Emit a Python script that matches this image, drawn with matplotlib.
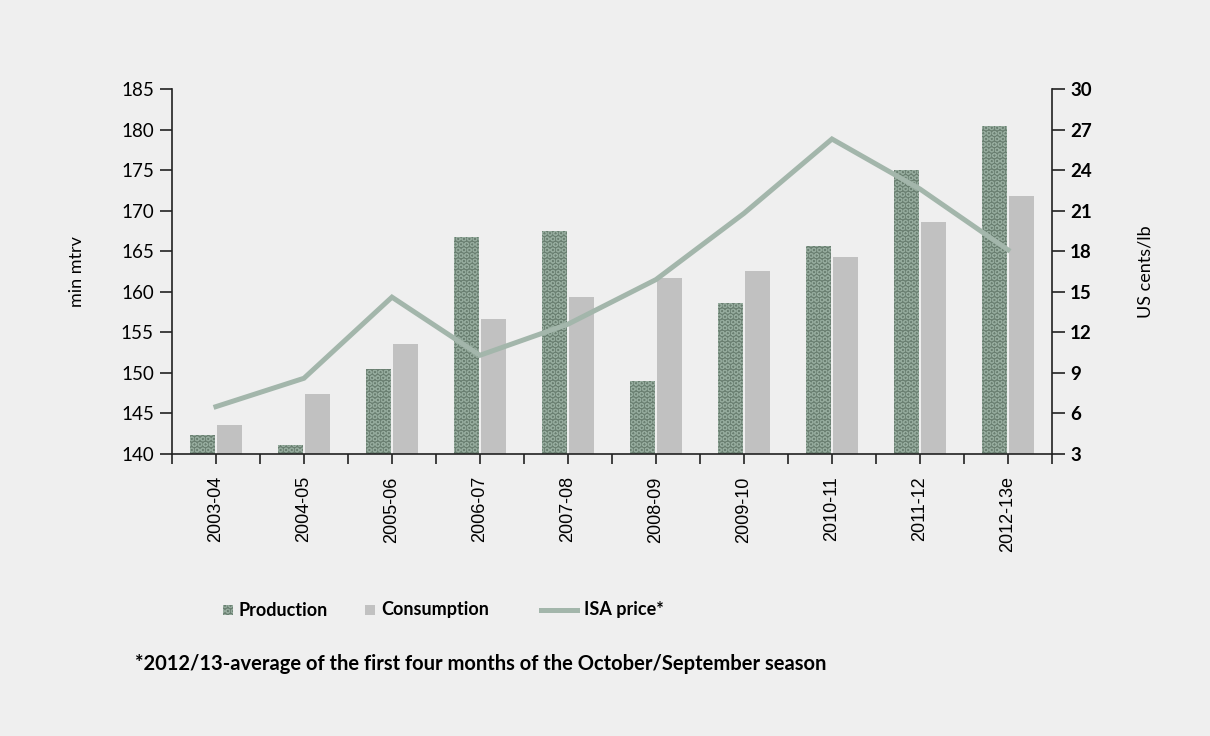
import numpy as np
import matplotlib
matplotlib.use('Agg')
import matplotlib.pyplot as plt
from matplotlib.patches import Rectangle
from matplotlib.lines import Line2D

seasons = ['2003-04', '2004-05', '2005-06', '2006-07', '2007-08',
           '2008-09', '2009-10', '2010-11', '2011-12', '2012-13e']
production = [142.3, 141.1, 150.5, 166.8, 167.5, 149.0, 158.6, 165.6, 175.0, 180.4]
consumption = [143.6, 147.4, 153.6, 156.6, 159.4, 161.7, 162.6, 164.3, 168.6, 171.8]
isa_price = [6.5, 8.6, 14.6, 10.3, 12.6, 15.9, 20.8, 26.3, 22.6, 18.1]

bg = '#efefef'
prod_col = '#6a7f71'
ring_col = '#94aa9c'
cons_col = '#c1c1c1'
line_col = '#a3b6ab'

plt.rcParams['font.family'] = ['Lato', 'DejaVu Sans']
plt.rcParams['hatch.linewidth'] = 0.7

fig = plt.figure(figsize=(12.1, 7.36), dpi=100, facecolor=bg)
ax = fig.add_axes([0.1421, 0.3832, 0.7273, 0.4959])
ax.set_facecolor(bg)

x = np.arange(len(seasons))
w = 0.29
# the ring pattern takes its colour from the edge colour, edge itself is not drawn
ax.bar(x - 0.155, np.array(production) - 140, bottom=140, width=w,
       color=prod_col, edgecolor=ring_col, linewidth=0, hatch='OOO', zorder=2)
ax.bar(x + 0.155, np.array(consumption) - 140, bottom=140, width=w,
       color=cons_col, linewidth=0, zorder=2)

ax.set_xlim(-0.5, len(seasons) - 0.5)
ax.set_ylim(140, 185)
ax.set_yticks(np.arange(140, 186, 5))
ax.set_xticks(x)
ax.set_xticks(np.arange(-0.5, len(seasons)), minor=True)
ax.set_xticklabels(seasons, rotation=90, family='Liberation Sans', fontsize=13)
ax.tick_params(axis='x', which='both', length=7, width=1.2, color='#222222', pad=9)
ax.tick_params(axis='y', length=9, width=1.2, color='#222222', labelsize=13.5, pad=4)
ax.set_ylabel('min mtrv', fontsize=13, labelpad=26)

for s in ['top', 'right']:
    ax.spines[s].set_visible(False)
for s in ['left', 'bottom']:
    ax.spines[s].set_color('#222222')
    ax.spines[s].set_linewidth(1.2)

# price line on the right-hand scale
ax2 = ax.twinx()
ax2.plot(x, isa_price, color=line_col, linewidth=3.6, solid_joinstyle='miter', zorder=3)
ax2.set_ylim(3, 30)
ax2.set_yticks(np.arange(3, 31, 3))
ax2.tick_params(axis='y', length=9, width=1.2, color='#222222', labelsize=13.5, pad=4)
for lbl in ax2.get_yticklabels():
    lbl.set_fontweight('bold')
ax2.set_ylabel('US cents/lb', fontsize=13, labelpad=33)
for s in ['top', 'left', 'bottom']:
    ax2.spines[s].set_visible(False)
ax2.spines['right'].set_color('#222222')
ax2.spines['right'].set_linewidth(1.2)

# legend drawn by hand
ly = 1 - 610 / 736
sq_w, sq_h = 10 / 1210, 10 / 736
fig.add_artist(Rectangle((223 / 1210, ly - sq_h / 2), sq_w, sq_h, transform=fig.transFigure,
                         facecolor=prod_col, edgecolor=ring_col, linewidth=0, hatch='OOO'))
fig.text(238 / 1210, ly, 'Production', fontsize=13, fontweight='bold', va='center')
fig.add_artist(Rectangle((365 / 1210, ly - sq_h / 2), sq_w, sq_h, transform=fig.transFigure,
                         facecolor=cons_col, linewidth=0))
fig.text(381 / 1210, ly, 'Consumption', fontsize=13, fontweight='bold', va='center')
fig.add_artist(Line2D([541 / 1210, 577 / 1210], [ly, ly], transform=fig.transFigure,
                      color=line_col, linewidth=3.6))
fig.text(584 / 1210, ly, 'ISA price*', fontsize=13, fontweight='bold', va='center')

fig.text(135 / 1210, 1 - 664 / 736,
         '*2012/13-average of the first four months of the October/September season',
         fontsize=14.5, fontweight='bold', va='center')

fig.savefig('out.png', dpi=100, facecolor=bg)
